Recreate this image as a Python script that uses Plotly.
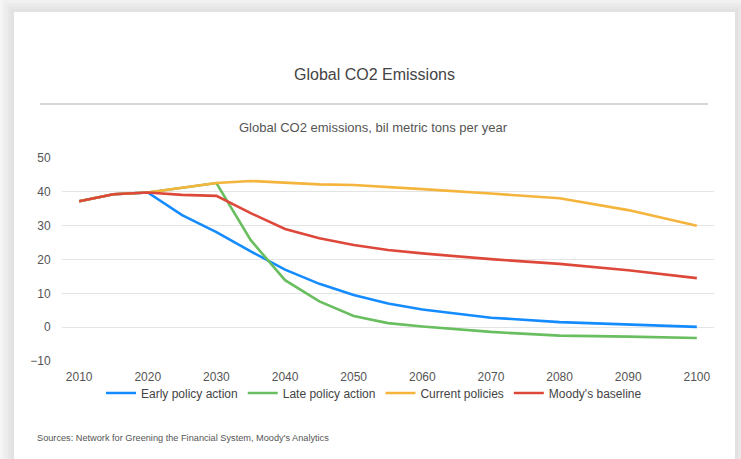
import plotly.graph_objects as go

years = [2010, 2015, 2020, 2025, 2030, 2035, 2040, 2045, 2050, 2055, 2060, 2070, 2080, 2090, 2100]
early_policy = [37.2, 39.3, 39.8, 33.1, 28.1, 22.4, 17.0, 12.8, 9.5, 7.0, 5.2, 2.8, 1.5, 0.8, 0.1]
late_policy = [37.2, 39.3, 39.8, 41.2, 42.6, 25.7, 13.9, 7.6, 3.3, 1.2, 0.2, -1.4, -2.5, -2.8, -3.2]
current_policies = [37.2, 39.3, 39.8, 41.2, 42.6, 43.2, 42.6, 42.2, 42.0, 41.3, 40.8, 39.5, 38.1, 34.6, 30.0]
moodys_baseline = [37.2, 39.3, 39.8, 39.1, 38.8, 33.7, 29.0, 26.3, 24.3, 22.8, 21.8, 20.1, 18.7, 16.8, 14.5]

series = [
    ("Early policy action", early_policy, "rgb(20,140,255)"),
    ("Late policy action", late_policy, "rgb(105,190,95)"),
    ("Current policies", current_policies, "rgb(245,180,60)"),
    ("Moody's baseline", moodys_baseline, "rgb(222,72,58)"),
]

W, H = 741, 459
L, R, T, B = 62, 714, 158, 361

def px(x):
    return (x - L) / (R - L)

def py(y):
    return (B - y) / (B - T)

fig = go.Figure()
for name, vals, col in series:
    fig.add_trace(go.Scatter(x=years, y=vals, name=name, mode="lines",
                             line=dict(color=col, width=2.6)))

shapes = []
# shadow layers
for d, c in [(12, "#f1f1f1"), (9, "#ececec"), (6, "#e7e7e7"), (3, "#e2e2e2")]:
    shapes.append(dict(type="rect", xref="paper", yref="paper", layer="below",
                       x0=px(14 - d), x1=px(735 + d), y0=py(470), y1=py(12 - d),
                       fillcolor=c, line=dict(width=0)))
shapes.append(dict(type="rect", xref="paper", yref="paper", layer="below",
                   x0=px(14), x1=px(735), y0=py(470), y1=py(12),
                   fillcolor="white", line=dict(width=0)))
shapes.append(dict(type="line", xref="paper", yref="paper", layer="below",
                   x0=px(40), x1=px(708), y0=py(104), y1=py(104),
                   line=dict(color="#d6d6d6", width=2)))

font = "Liberation Sans, Arial, sans-serif"
annotations = [
    dict(text="Global CO2 Emissions", xref="paper", yref="paper", x=px(374), y=py(75),
         xanchor="center", yanchor="middle", showarrow=False,
         font=dict(family=font, size=16, color="#444444")),
    dict(text="Global CO2 emissions, bil metric tons per year", xref="paper", yref="paper",
         x=px(373), y=py(127), xanchor="center", yanchor="middle", showarrow=False,
         font=dict(family=font, size=13, color="#555555")),
    dict(text="Sources: Network for Greening the Financial System, Moody's Analytics",
         xref="paper", yref="paper", x=px(35), y=py(438), xanchor="left", yanchor="middle",
         showarrow=False, font=dict(family=font, size=9.2, color="#555555")),
]

fig.update_layout(
    width=W, height=H,
    margin=dict(l=L, r=W - R, t=T, b=H - B, pad=0, autoexpand=False),
    paper_bgcolor="#f6f6f6",
    plot_bgcolor="rgba(0,0,0,0)",
    font=dict(family=font, size=12, color="#555555"),
    shapes=shapes,
    annotations=annotations,
    showlegend=True,
    legend=dict(orientation="h", xref="paper", x=px(374), xanchor="center",
                yref="paper", y=py(393), yanchor="middle",
                bgcolor="rgba(0,0,0,0)", itemwidth=30,
                font=dict(family=font, size=12, color="#444444"), tracegroupgap=0),
    xaxis=dict(range=[2007.5, 2102.5], tickmode="array",
               tickvals=list(range(2010, 2101, 10)), tickangle=0,
               showgrid=False, zeroline=False, showline=False, automargin=False,
               ticks="outside", ticklen=5, tickcolor="rgba(0,0,0,0)",
               tickfont=dict(size=12, color="#555555")),
    yaxis=dict(range=[-10, 50], tickvals=[-10, 0, 10, 20, 30, 40, 50],
               showgrid=True, gridcolor="#e4e4e4", gridwidth=1, automargin=False,
               zeroline=False, showline=False,
               ticks="outside", ticklen=8, tickcolor="rgba(0,0,0,0)",
               tickfont=dict(size=12, color="#555555")),
)

fig.write_html("out.html")
